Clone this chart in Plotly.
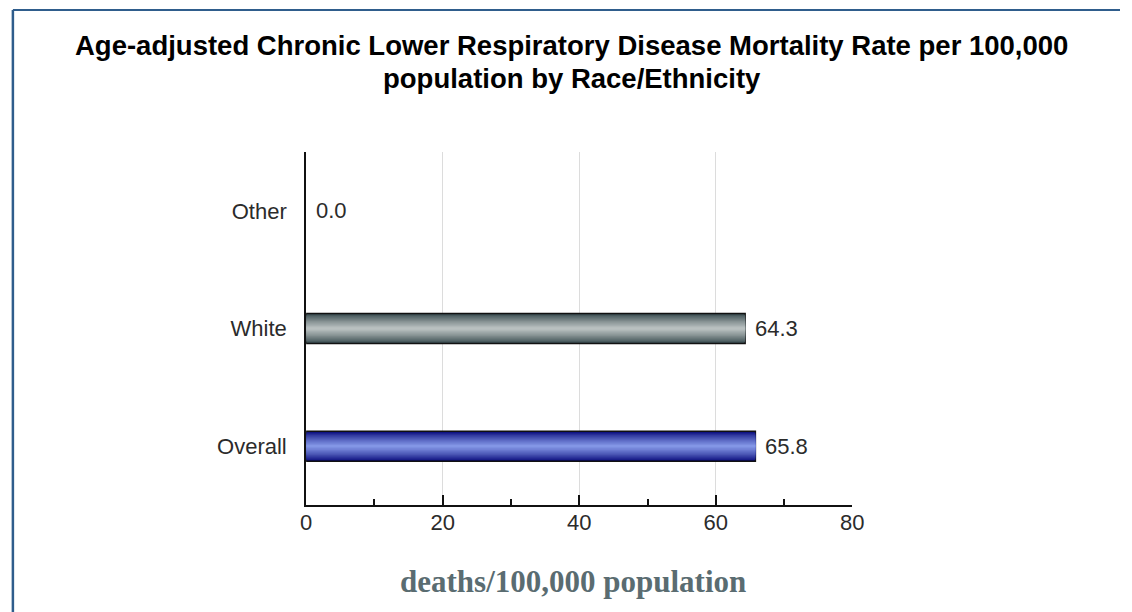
import plotly.graph_objects as go

# Age-adjusted chronic lower respiratory disease mortality by race/ethnicity
categories = ["Overall", "White", "Other"]
rates = [65.8, 64.3, 0.0]
rate_labels = ["65.8", "64.3", "0.0"]
x_ticks = [0, 20, 40, 60, 80]
title_lines = [
    "Age-adjusted Chronic Lower Respiratory Disease Mortality Rate per 100,000",
    "population by Race/Ethnicity",
]
x_title = "deaths/100,000 population"

# edge colour -> centre colour for the shaded bar fills
shade_pairs = {
    "Overall": ("#07097a", "#8396e6"),
    "White": ("#34474b", "#b9c0c0"),
    "Other": ("#34474b", "#b9c0c0"),
}

W, H = 1132, 612
BAR_W = 0.255
LAYERS = 12
LABEL_FONT = dict(family="Liberation Sans, Arial", size=22, color="#2b2b2b")


def hex_to_rgb(h):
    h = h.lstrip("#")
    return tuple(int(h[i:i + 2], 16) for i in (0, 2, 4))


def mix(c1, c2, t):
    a, b = hex_to_rgb(c1), hex_to_rgb(c2)
    return "rgb({},{},{})".format(*[round(a[i] + (b[i] - a[i]) * t) for i in range(3)])


def py(pixel_y):
    return 1 - pixel_y / H


fig = go.Figure()

# each bar is a stack of progressively narrower layers, giving a tube-like shading
for cat, val in zip(categories, rates):
    edge, centre = shade_pairs[cat]
    for k in range(LAYERS):
        t = k / (LAYERS - 1)
        w = BAR_W * (1 - 0.92 * t)
        outline = 1.5 if (k == 0 and val > 0) else 0
        fig.add_trace(go.Bar(
            y=[cat], x=[val], orientation="h", width=w,
            marker=dict(
                color=mix(edge, centre, t ** 0.8),
                line=dict(color="#111111", width=outline),
            ),
            hoverinfo="skip", showlegend=False,
        ))

for cat, val, lab in zip(categories, rates, rate_labels):
    fig.add_annotation(
        x=val, y=cat, text=lab, showarrow=False, xanchor="left", yanchor="middle",
        xshift=8, font=LABEL_FONT,
    )

# chart title, two centred lines
for line, yc in zip(title_lines, [46, 79]):
    fig.add_annotation(
        xref="paper", yref="paper", x=575 / W, y=py(yc), xanchor="center", yanchor="middle",
        text="<b>" + line + "</b>", showarrow=False,
        font=dict(family="Liberation Sans, Arial", size=27.5, color="#000000"),
    )

# outer frame lines (top and left)
fig.add_shape(type="line", xref="paper", yref="paper", x0=7 / W, x1=1.0,
              y0=py(10), y1=py(10), line=dict(color="#2f5d8c", width=2))
fig.add_shape(type="line", xref="paper", yref="paper", x0=7 / W, x1=7 / W,
              y0=0, y1=py(10), line=dict(color="#2f5d8c", width=2.5))

fig.add_annotation(
    xref="paper", yref="paper", x=576 / W, y=py(581), xanchor="center", yanchor="middle",
    text="<b>" + x_title + "</b>", showarrow=False,
    font=dict(family="Liberation Serif, Times New Roman", size=31, color="#5a6c71"),
)

fig.update_layout(
    width=W, height=H,
    margin=dict(l=0, r=0, t=0, b=0),
    paper_bgcolor="white", plot_bgcolor="white",
    barmode="overlay",
    xaxis=dict(
        domain=[305 / W, 860 / W],
        range=[0, 80], tickvals=x_ticks, ticktext=[str(v) for v in x_ticks],
        showgrid=True, gridcolor="#dcdcdc", gridwidth=1,
        showline=True, linecolor="#111111", linewidth=2,
        ticks="inside", ticklen=10, tickwidth=2, tickcolor="#111111",
        minor=dict(dtick=10, ticks="inside", ticklen=6, tickwidth=2, tickcolor="#111111", showgrid=False),
        tickfont=LABEL_FONT, ticklabelstandoff=-3,
        zeroline=False, fixedrange=True,
    ),
    yaxis=dict(
        domain=[py(505), py(152)],
        categoryorder="array", categoryarray=categories,
        showline=True, linecolor="#111111", linewidth=2,
        showgrid=False, ticks="", ticklabelstandoff=13,
        tickfont=LABEL_FONT,
        fixedrange=True,
    ),
)

fig.write_html("out.html")
